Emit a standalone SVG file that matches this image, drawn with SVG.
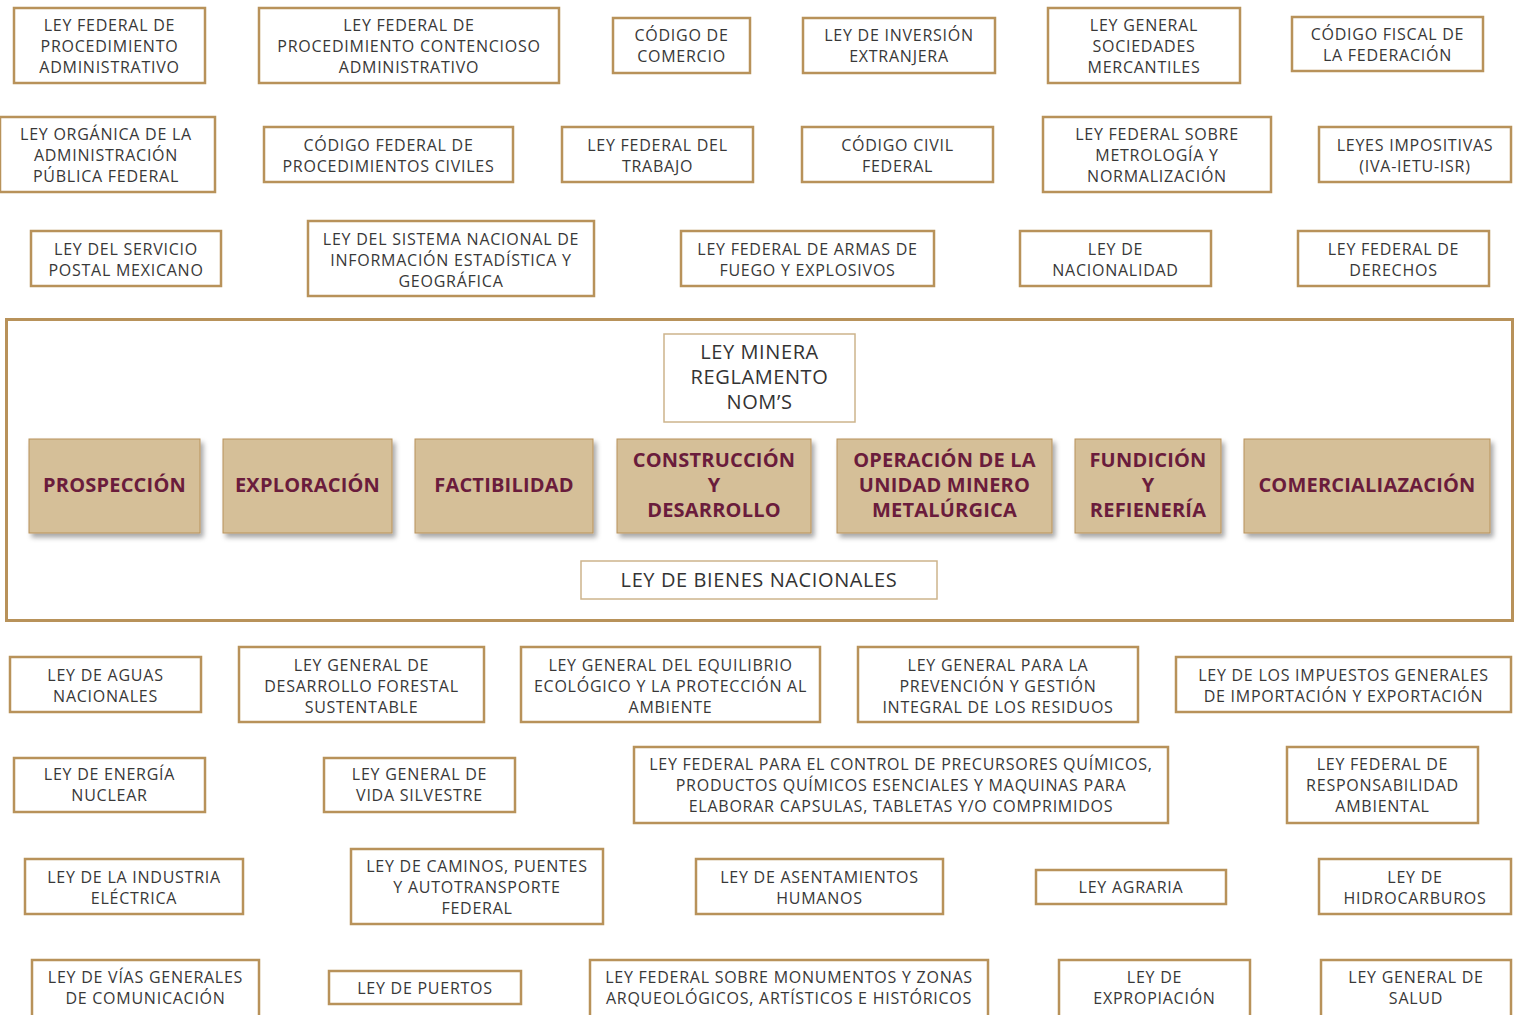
<svg xmlns="http://www.w3.org/2000/svg" width="1520" height="1015" viewBox="0 0 1520 1015">
<style>
.law rect{fill:#fff;stroke:#B8925A;stroke-width:2.5}
.law text{font-family:"Open Sans","Liberation Sans",sans-serif;font-size:16px;letter-spacing:0.75px;fill:#383838;text-anchor:middle}
.frame{fill:none;stroke:#B8925A;stroke-width:3}
.thin rect{fill:#fff;stroke:#CDB48C;stroke-width:1.5}
.thin text{font-family:"Open Sans","Liberation Sans",sans-serif;font-size:20px;letter-spacing:0.6px;fill:#333;text-anchor:middle}
.stage rect{fill:#D5BF98;stroke:#B8925A;stroke-width:1;filter:url(#sh)}
.stage text{font-family:"Open Sans","Liberation Sans",sans-serif;font-size:20px;font-weight:bold;letter-spacing:0.2px;fill:#6A1C3C;text-anchor:middle}
</style>
<defs>
<filter id="sh" x="-10%" y="-10%" width="125%" height="130%">
<feDropShadow dx="3" dy="4" stdDeviation="2.5" flood-color="#000" flood-opacity="0.35"/>
</filter>
</defs>
<rect width="1520" height="1015" fill="#fff"/>

<g id="r1n1" class="law"><rect x="14" y="8" width="191" height="75"/><text><tspan x="109.5" y="31">LEY FEDERAL DE</tspan><tspan x="109.5" y="52">PROCEDIMIENTO</tspan><tspan x="109.5" y="73">ADMINISTRATIVO</tspan></text></g>
<g id="r1n2" class="law"><rect x="259" y="8" width="300" height="75"/><text><tspan x="409" y="31">LEY FEDERAL DE</tspan><tspan x="409" y="52">PROCEDIMIENTO CONTENCIOSO</tspan><tspan x="409" y="73">ADMINISTRATIVO</tspan></text></g>
<g id="r1n3" class="law"><rect x="613" y="18" width="137" height="55"/><text><tspan x="681.5" y="41">CÓDIGO DE</tspan><tspan x="681.5" y="62">COMERCIO</tspan></text></g>
<g id="r1n4" class="law"><rect x="803" y="18" width="192" height="55"/><text><tspan x="899" y="41">LEY DE INVERSIÓN</tspan><tspan x="899" y="62">EXTRANJERA</tspan></text></g>
<g id="r1n5" class="law"><rect x="1048" y="8" width="192" height="75"/><text><tspan x="1144" y="31">LEY GENERAL</tspan><tspan x="1144" y="52">SOCIEDADES</tspan><tspan x="1144" y="73">MERCANTILES</tspan></text></g>
<g id="r1n6" class="law"><rect x="1292" y="17" width="191" height="54"/><text><tspan x="1387.5" y="40">CÓDIGO FISCAL DE</tspan><tspan x="1387.5" y="61">LA FEDERACIÓN</tspan></text></g>

<g id="r2n1" class="law"><rect x="0" y="117" width="215" height="75"/><text><tspan x="106" y="140">LEY ORGÁNICA DE LA</tspan><tspan x="106" y="161">ADMINISTRACIÓN</tspan><tspan x="106" y="182">PÚBLICA FEDERAL</tspan></text></g>
<g id="r2n2" class="law"><rect x="264" y="127" width="249" height="55"/><text><tspan x="388.5" y="151">CÓDIGO FEDERAL DE</tspan><tspan x="388.5" y="172">PROCEDIMIENTOS CIVILES</tspan></text></g>
<g id="r2n3" class="law"><rect x="562" y="127" width="191" height="55"/><text><tspan x="657.5" y="151">LEY FEDERAL DEL</tspan><tspan x="657.5" y="172">TRABAJO</tspan></text></g>
<g id="r2n4" class="law"><rect x="802" y="127" width="191" height="55"/><text><tspan x="897.5" y="151">CÓDIGO CIVIL</tspan><tspan x="897.5" y="172">FEDERAL</tspan></text></g>
<g id="r2n5" class="law"><rect x="1043" y="117" width="228" height="75"/><text><tspan x="1157" y="140">LEY FEDERAL SOBRE</tspan><tspan x="1157" y="161">METROLOGÍA Y</tspan><tspan x="1157" y="182">NORMALIZACIÓN</tspan></text></g>
<g id="r2n6" class="law"><rect x="1319" y="127" width="192" height="55"/><text><tspan x="1415" y="151">LEYES IMPOSITIVAS</tspan><tspan x="1415" y="172">(IVA-IETU-ISR)</tspan></text></g>

<g id="r3n1" class="law"><rect x="31" y="231" width="190" height="55"/><text><tspan x="126" y="255">LEY DEL SERVICIO</tspan><tspan x="126" y="276">POSTAL MEXICANO</tspan></text></g>
<g id="r3n2" class="law"><rect x="308" y="221" width="286" height="75"/><text><tspan x="451" y="245">LEY DEL SISTEMA NACIONAL DE</tspan><tspan x="451" y="266">INFORMACIÓN ESTADÍSTICA Y</tspan><tspan x="451" y="287">GEOGRÁFICA</tspan></text></g>
<g id="r3n3" class="law"><rect x="681" y="231" width="253" height="55"/><text><tspan x="807.5" y="255">LEY FEDERAL DE ARMAS DE</tspan><tspan x="807.5" y="276">FUEGO Y EXPLOSIVOS</tspan></text></g>
<g id="r3n4" class="law"><rect x="1020" y="231" width="191" height="55"/><text><tspan x="1115.5" y="255">LEY DE</tspan><tspan x="1115.5" y="276">NACIONALIDAD</tspan></text></g>
<g id="r3n5" class="law"><rect x="1298" y="231" width="191" height="55"/><text><tspan x="1393.5" y="255">LEY FEDERAL DE</tspan><tspan x="1393.5" y="276">DERECHOS</tspan></text></g>

<rect id="frame" class="frame" x="6.5" y="319.5" width="1506" height="301"/>

<g id="leyminera" class="thin"><rect x="664" y="334" width="191" height="88"/><text><tspan x="759.5" y="359">LEY MINERA</tspan><tspan x="759.5" y="384">REGLAMENTO</tspan><tspan x="759.5" y="409">NOM’S</tspan></text></g>

<g id="s1" class="stage"><rect x="29" y="439" width="171" height="94"/><text><tspan x="114.5" y="492">PROSPECCIÓN</tspan></text></g>
<g id="s2" class="stage"><rect x="223" y="439" width="169" height="94"/><text><tspan x="307.5" y="492">EXPLORACIÓN</tspan></text></g>
<g id="s3" class="stage"><rect x="415" y="439" width="178" height="94"/><text><tspan x="504" y="492">FACTIBILIDAD</tspan></text></g>
<g id="s4" class="stage"><rect x="617" y="439" width="194" height="94"/><text><tspan x="714" y="467">CONSTRUCCIÓN</tspan><tspan x="714" y="492">Y</tspan><tspan x="714" y="517">DESARROLLO</tspan></text></g>
<g id="s5" class="stage"><rect x="837" y="439" width="215" height="94"/><text><tspan x="944.5" y="467">OPERACIÓN DE LA</tspan><tspan x="944.5" y="492">UNIDAD MINERO</tspan><tspan x="944.5" y="517">METALÚRGICA</tspan></text></g>
<g id="s6" class="stage"><rect x="1075" y="439" width="146" height="94"/><text><tspan x="1148" y="467">FUNDICIÓN</tspan><tspan x="1148" y="492">Y</tspan><tspan x="1148" y="517">REFIENERÍA</tspan></text></g>
<g id="s7" class="stage"><rect x="1244" y="439" width="246" height="94"/><text><tspan x="1367" y="492">COMERCIALIAZACIÓN</tspan></text></g>

<g id="bienes" class="thin"><rect x="581" y="561" width="356" height="38"/><text><tspan x="759" y="587">LEY DE BIENES NACIONALES</tspan></text></g>

<g id="r4n1" class="law"><rect x="10" y="657" width="191" height="55"/><text><tspan x="105.5" y="681">LEY DE AGUAS</tspan><tspan x="105.5" y="702">NACIONALES</tspan></text></g>
<g id="r4n2" class="law"><rect x="239" y="647" width="245" height="75"/><text><tspan x="361.5" y="671">LEY GENERAL DE</tspan><tspan x="361.5" y="692">DESARROLLO FORESTAL</tspan><tspan x="361.5" y="713">SUSTENTABLE</tspan></text></g>
<g id="r4n3" class="law"><rect x="521" y="647" width="299" height="75"/><text><tspan x="670.5" y="671">LEY GENERAL DEL EQUILIBRIO</tspan><tspan x="670.5" y="692">ECOLÓGICO Y LA PROTECCIÓN AL</tspan><tspan x="670.5" y="713">AMBIENTE</tspan></text></g>
<g id="r4n4" class="law"><rect x="858" y="647" width="280" height="75"/><text><tspan x="998" y="671">LEY GENERAL PARA LA</tspan><tspan x="998" y="692">PREVENCIÓN Y GESTIÓN</tspan><tspan x="998" y="713">INTEGRAL DE LOS RESIDUOS</tspan></text></g>
<g id="r4n5" class="law"><rect x="1176" y="657" width="335" height="55"/><text><tspan x="1343.5" y="681">LEY DE LOS IMPUESTOS GENERALES</tspan><tspan x="1343.5" y="702">DE IMPORTACIÓN  Y EXPORTACIÓN</tspan></text></g>

<g id="r5n1" class="law"><rect x="14" y="758" width="191" height="54"/><text><tspan x="109.5" y="780">LEY DE ENERGÍA</tspan><tspan x="109.5" y="801">NUCLEAR</tspan></text></g>
<g id="r5n2" class="law"><rect x="324" y="758" width="191" height="54"/><text><tspan x="419.5" y="780">LEY GENERAL DE</tspan><tspan x="419.5" y="801">VIDA SILVESTRE</tspan></text></g>
<g id="r5n3" class="law"><rect x="634" y="747" width="534" height="76"/><text><tspan x="901" y="770">LEY FEDERAL PARA EL CONTROL DE PRECURSORES QUÍMICOS,</tspan><tspan x="901" y="791">PRODUCTOS QUÍMICOS ESENCIALES Y MAQUINAS PARA</tspan><tspan x="901" y="812">ELABORAR CAPSULAS, TABLETAS Y/O COMPRIMIDOS</tspan></text></g>
<g id="r5n4" class="law"><rect x="1287" y="747" width="191" height="76"/><text><tspan x="1382.5" y="770">LEY FEDERAL DE</tspan><tspan x="1382.5" y="791">RESPONSABILIDAD</tspan><tspan x="1382.5" y="812">AMBIENTAL</tspan></text></g>

<g id="r6n1" class="law"><rect x="25" y="859" width="218" height="55"/><text><tspan x="134" y="883">LEY DE LA INDUSTRIA</tspan><tspan x="134" y="904">ELÉCTRICA</tspan></text></g>
<g id="r6n2" class="law"><rect x="351" y="849" width="252" height="75"/><text><tspan x="477" y="872">LEY DE CAMINOS, PUENTES</tspan><tspan x="477" y="893">Y AUTOTRANSPORTE</tspan><tspan x="477" y="914">FEDERAL</tspan></text></g>
<g id="r6n3" class="law"><rect x="696" y="859" width="247" height="55"/><text><tspan x="819.5" y="883">LEY DE ASENTAMIENTOS</tspan><tspan x="819.5" y="904">HUMANOS</tspan></text></g>
<g id="r6n4" class="law"><rect x="1036" y="870" width="190" height="34"/><text><tspan x="1131" y="893">LEY AGRARIA</tspan></text></g>
<g id="r6n5" class="law"><rect x="1319" y="859" width="192" height="55"/><text><tspan x="1415" y="883">LEY DE</tspan><tspan x="1415" y="904">HIDROCARBUROS</tspan></text></g>

<g id="r7n1" class="law"><rect x="32" y="960" width="227" height="60"/><text><tspan x="145.5" y="983">LEY DE VÍAS GENERALES</tspan><tspan x="145.5" y="1004">DE COMUNICACIÓN</tspan></text></g>
<g id="r7n2" class="law"><rect x="329" y="971" width="192" height="33"/><text><tspan x="425" y="994">LEY DE PUERTOS</tspan></text></g>
<g id="r7n3" class="law"><rect x="590" y="960" width="398" height="60"/><text><tspan x="789" y="983">LEY FEDERAL SOBRE MONUMENTOS Y ZONAS</tspan><tspan x="789" y="1004">ARQUEOLÓGICOS, ARTÍSTICOS E HISTÓRICOS</tspan></text></g>
<g id="r7n4" class="law"><rect x="1059" y="960" width="191" height="60"/><text><tspan x="1154.5" y="983">LEY DE</tspan><tspan x="1154.5" y="1004">EXPROPIACIÓN</tspan></text></g>
<g id="r7n5" class="law"><rect x="1321" y="960" width="190" height="60"/><text><tspan x="1416" y="983">LEY GENERAL DE</tspan><tspan x="1416" y="1004">SALUD</tspan></text></g>

<g id="connectors"></g>
</svg>
